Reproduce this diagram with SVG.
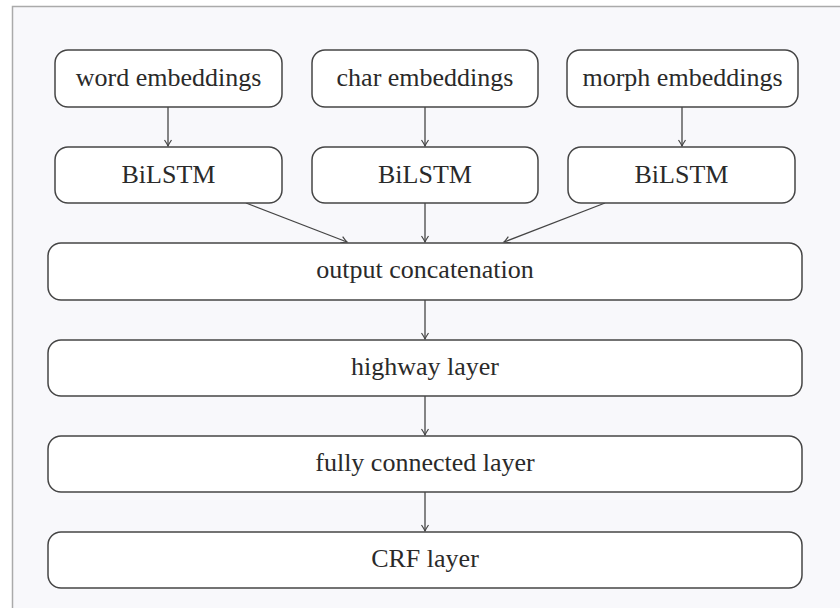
<svg xmlns="http://www.w3.org/2000/svg" width="840" height="608" viewBox="0 0 840 608">
<defs>
<style>
.box{fill:#ffffff;stroke:#454545;stroke-width:1.5}
.lbl{font-family:"Liberation Serif","Times New Roman",serif;font-size:26px;fill:#2a2a2a;text-anchor:middle}
.edge{stroke:#454545;stroke-width:1.3;fill:none;marker-end:url(#tip)}
</style>
<marker id="tip" viewBox="-8 -5 10 10" markerWidth="10" markerHeight="10" refX="0" refY="0" orient="auto" markerUnits="userSpaceOnUse">
<path d="M -6 -3.5 Q -2 -0.8 0 0 Q -2 0.8 -6 3.5" fill="none" stroke="#454545" stroke-width="1.2"/>
</marker>
</defs>
<rect x="0" y="0" width="840" height="608" fill="#ffffff"/>
<rect x="12.5" y="6.5" width="840" height="610" fill="#f8f8fb" stroke="#aaaaaa" stroke-width="1.5"/>

<g id="connectors">
<line class="edge" x1="168" y1="107" x2="168" y2="146"/>
<line class="edge" x1="425" y1="107" x2="425" y2="146"/>
<line class="edge" x1="682" y1="107" x2="682" y2="146"/>
<line class="edge" x1="246" y1="203" x2="347" y2="242"/>
<line class="edge" x1="425" y1="203" x2="425" y2="242"/>
<line class="edge" x1="605" y1="203" x2="504" y2="242"/>
<line class="edge" x1="425" y1="300" x2="425" y2="339"/>
<line class="edge" x1="425" y1="396" x2="425" y2="435"/>
<line class="edge" x1="425" y1="492" x2="425" y2="531"/>
</g>

<g id="word_embeddings"><rect class="box" x="55" y="50" width="227" height="57" rx="13"/><text class="lbl" x="168.5" y="86">word embeddings</text></g>
<g id="char_embeddings"><rect class="box" x="312" y="50" width="226" height="57" rx="13"/><text class="lbl" x="425" y="86">char embeddings</text></g>
<g id="morph_embeddings"><rect class="box" x="567" y="50" width="231" height="57" rx="13"/><text class="lbl" x="682.5" y="86">morph embeddings</text></g>

<g id="bilstm_word"><rect class="box" x="55" y="147" width="227" height="56" rx="13"/><text class="lbl" x="168.5" y="183">BiLSTM</text></g>
<g id="bilstm_char"><rect class="box" x="312" y="147" width="226" height="56" rx="13"/><text class="lbl" x="425" y="183">BiLSTM</text></g>
<g id="bilstm_morph"><rect class="box" x="568" y="147" width="227" height="56" rx="13"/><text class="lbl" x="681.5" y="183">BiLSTM</text></g>

<g id="output_concatenation"><rect class="box" x="48" y="243" width="754" height="57" rx="13"/><text class="lbl" x="425" y="278">output concatenation</text></g>
<g id="highway_layer"><rect class="box" x="48" y="340" width="754" height="56" rx="13"/><text class="lbl" x="425" y="375">highway layer</text></g>
<g id="fully_connected_layer"><rect class="box" x="48" y="436" width="754" height="56" rx="13"/><text class="lbl" x="425" y="471">fully connected layer</text></g>
<g id="crf_layer"><rect class="box" x="48" y="532" width="754" height="56" rx="13"/><text class="lbl" x="425" y="567">CRF layer</text></g>
</svg>
